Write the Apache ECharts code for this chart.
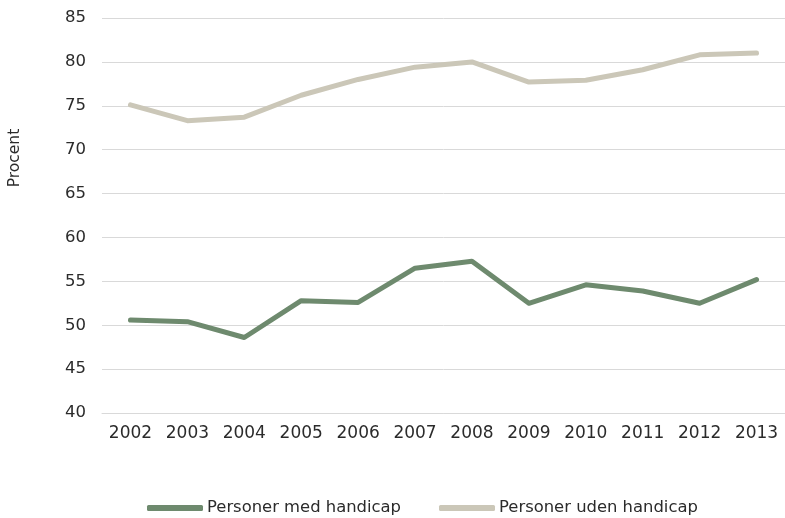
<!DOCTYPE html>
<html><head><meta charset="utf-8">
<script src="https://cdn.jsdelivr.net/npm/echarts@6/dist/echarts.min.js"></script>
<style>html,body{margin:0;padding:0;background:#fff}#c{width:785px;height:518px}</style>
</head><body><div id="c"></div>
<script>
const years = ['2002','2003','2004','2005','2006','2007','2008','2009','2010','2011','2012','2013'];
const medHandicap = [50.6, 50.4, 48.6, 52.8, 52.6, 56.5, 57.3, 52.5, 54.6, 53.9, 52.5, 55.2];
const udenHandicap = [75.1, 73.3, 73.7, 76.2, 78.0, 79.4, 80.0, 77.7, 77.9, 79.1, 80.8, 81.0];
const seriesNames = ['Personer med handicap', 'Personer uden handicap'];
const yTitle = 'Procent';

const font = '"DejaVu Sans", sans-serif';
const txt = '#2b2b2b';
const chart = echarts.init(document.getElementById('c'), null, {renderer: 'canvas'});
chart.setOption({
  animation: false,
  textStyle: {fontFamily: font},
  grid: {left: 102, right: -6, top: 18, bottom: 105},
  graphic: [{
    type: 'text', x: 15, y: 158, rotation: Math.PI / 2,
    style: {text: yTitle, fontSize: 15.5, fill: txt, fontFamily: font, align: 'center', verticalAlign: 'middle'}
  }],
  legend: {
    top: 500, left: 147, padding: 0, itemWidth: 56, itemHeight: 6, itemGap: 38,
    textStyle: {fontSize: 16.4, color: txt, fontFamily: font, padding: [0, 0, 0, -1]},
    icon: 'roundRect',
    data: seriesNames
  },
  xAxis: {
    type: 'category', data: years, boundaryGap: true,
    axisLine: {show: true, lineStyle: {color: '#d9d9d9'}},
    axisTick: {show: false},
    axisLabel: {fontSize: 17, color: txt, margin: 12, fontFamily: font}
  },
  yAxis: {
    type: 'value', min: 40, max: 85, interval: 5,
    axisLine: {show: false}, axisTick: {show: false},
    axisLabel: {fontSize: 16.5, color: txt, margin: 16, fontFamily: font},
    splitLine: {lineStyle: {color: '#d9d9d9', width: 1}}
  },
  series: [
    {name: seriesNames[0], type: 'line', data: medHandicap, symbol: 'none',
     lineStyle: {color: '#6e8a6e', width: 5, cap: 'round', join: 'round'}, itemStyle: {color: '#6e8a6e'}},
    {name: seriesNames[1], type: 'line', data: udenHandicap, symbol: 'none',
     lineStyle: {color: '#cbc7b8', width: 5, cap: 'round', join: 'round'}, itemStyle: {color: '#cbc7b8'}}
  ]
});
</script></body></html>
